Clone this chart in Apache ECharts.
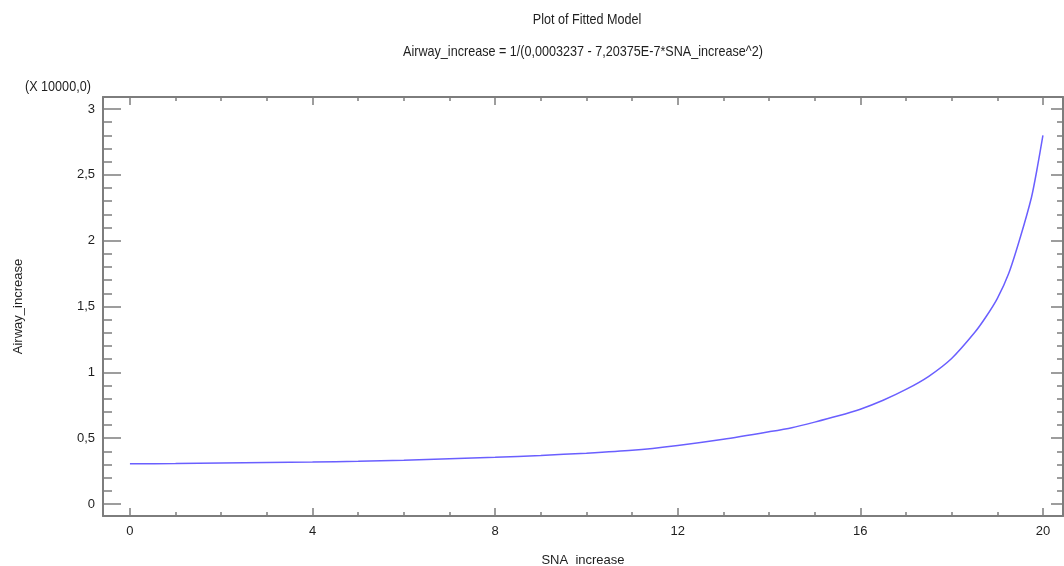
<!DOCTYPE html>
<html>
<head>
<meta charset="utf-8">
<script src="https://cdn.jsdelivr.net/npm/echarts@6/dist/echarts.min.js"></script>
<style>
  html, body { margin: 0; padding: 0; background: #fff; }
  #chart { width: 1064px; height: 566px; }
</style>
</head>
<body>
<div id="chart"></div>
<script>
// SNA_increase values and fitted Airway_increase (in units of 10000)
const snaValues = [0, 1, 2, 3, 4, 5, 6, 7, 8, 9, 10, 11, 12, 13, 14, 14.5, 15, 15.5, 16, 16.5, 17, 17.5, 18, 18.5, 18.75, 19, 19.25, 19.5, 19.75, 19.875, 20];
const airwayValues = [0.306, 0.307, 0.311, 0.315, 0.319, 0.325, 0.333, 0.344, 0.355, 0.369, 0.386, 0.408, 0.445, 0.492, 0.549, 0.58, 0.622, 0.668, 0.72, 0.788, 0.87, 0.97, 1.105, 1.3, 1.42, 1.56, 1.75, 2.02, 2.33, 2.55, 2.8];

// tick labels
const xMajor = [0, 4, 8, 12, 16, 20];
const xMinor = [1, 2, 3, 5, 6, 7, 9, 10, 11, 13, 14, 15, 17, 18, 19];
const yMajor = [0, 0.5, 1, 1.5, 2, 2.5, 3];
const yMinor = [0.1, 0.2, 0.3, 0.4, 0.6, 0.7, 0.8, 0.9, 1.1, 1.2, 1.3, 1.4, 1.6, 1.7, 1.8, 1.9, 2.1, 2.2, 2.3, 2.4, 2.6, 2.7, 2.8, 2.9];

const frameColor = '#7d7d7d';
const textColor = '#1e1e1e';
const font = "'Liberation Sans', Arial, sans-serif";
const fs = 13;
const comma = v => String(v).replace('.', ',');

const chart = echarts.init(document.getElementById('chart'));

// one axis per side and tick kind (major / minor)
const makeAxis = (position, ticks, len, withLine, withLabels, min, max) => ({
  type: 'value',
  position: position,
  min: min,
  max: max,
  splitLine: { show: false },
  axisLine: { show: withLine, onZero: false, lineStyle: { color: frameColor, width: 2 } },
  axisTick: { show: true, inside: true, length: len, customValues: ticks, lineStyle: { color: frameColor, width: 1.5 } },
  axisLabel: withLabels ? {
    show: true, customValues: ticks, formatter: comma,
    color: textColor, fontSize: fs, fontFamily: font, margin: 8
  } : { show: false }
});

const xMin = -0.59, xMax = 20.44;
const yMin = -0.091, yMax = 3.091;

const xAxes = [
  makeAxis('bottom', xMajor, 8, true, true, xMin, xMax),
  makeAxis('bottom', xMinor, 4, false, false, xMin, xMax),
  makeAxis('top', xMajor, 8, true, false, xMin, xMax),
  makeAxis('top', xMinor, 4, false, false, xMin, xMax)
];
xAxes[0].name = 'SNA_increase';
xAxes[0].nameLocation = 'middle';
xAxes[0].nameGap = 38;
xAxes[0].nameTextStyle = { color: textColor, fontSize: fs, fontFamily: font };
xAxes[0].axisLabel.margin = 9;

const yAxes = [
  makeAxis('left', yMajor, 18, true, true, yMin, yMax),
  makeAxis('left', yMinor, 9, false, false, yMin, yMax),
  makeAxis('right', yMajor, 12, true, false, yMin, yMax),
  makeAxis('right', yMinor, 6, false, false, yMin, yMax)
];
yAxes[0].name = 'Airway_increase';
yAxes[0].nameLocation = 'middle';
yAxes[0].nameGap = 78;
yAxes[0].nameTextStyle = { color: textColor, fontSize: fs, fontFamily: font };

// narrow-looking header text: larger font squeezed horizontally
const headText = (text, x, y, align) => ({
  type: 'text',
  x: x, y: y,
  scaleX: 0.84,
  style: {
    text: text, fill: textColor, fontSize: 15, fontFamily: font,
    align: align, verticalAlign: 'middle'
  }
});

chart.setOption({
  animation: false,
  backgroundColor: '#fff',
  graphic: [
    headText('Plot of Fitted Model', 587, 20, 'center'),
    headText('Airway_increase = 1/(0,0003237 - 7,20375E-7*SNA_increase^2)', 583, 52, 'center'),
    headText('(X 10000,0)', 25, 87, 'left')
  ],
  grid: { left: 103, top: 97, right: 1, bottom: 50, outerBoundsMode: 'none' },
  xAxis: xAxes,
  yAxis: yAxes,
  series: [{
    type: 'line',
    xAxisIndex: 0,
    yAxisIndex: 0,
    data: snaValues.map((x, i) => [x, airwayValues[i]]),
    smooth: 0.25,
    showSymbol: false,
    lineStyle: { color: '#6a5fff', width: 1.5 }
  }]
});
</script>
</body>
</html>
